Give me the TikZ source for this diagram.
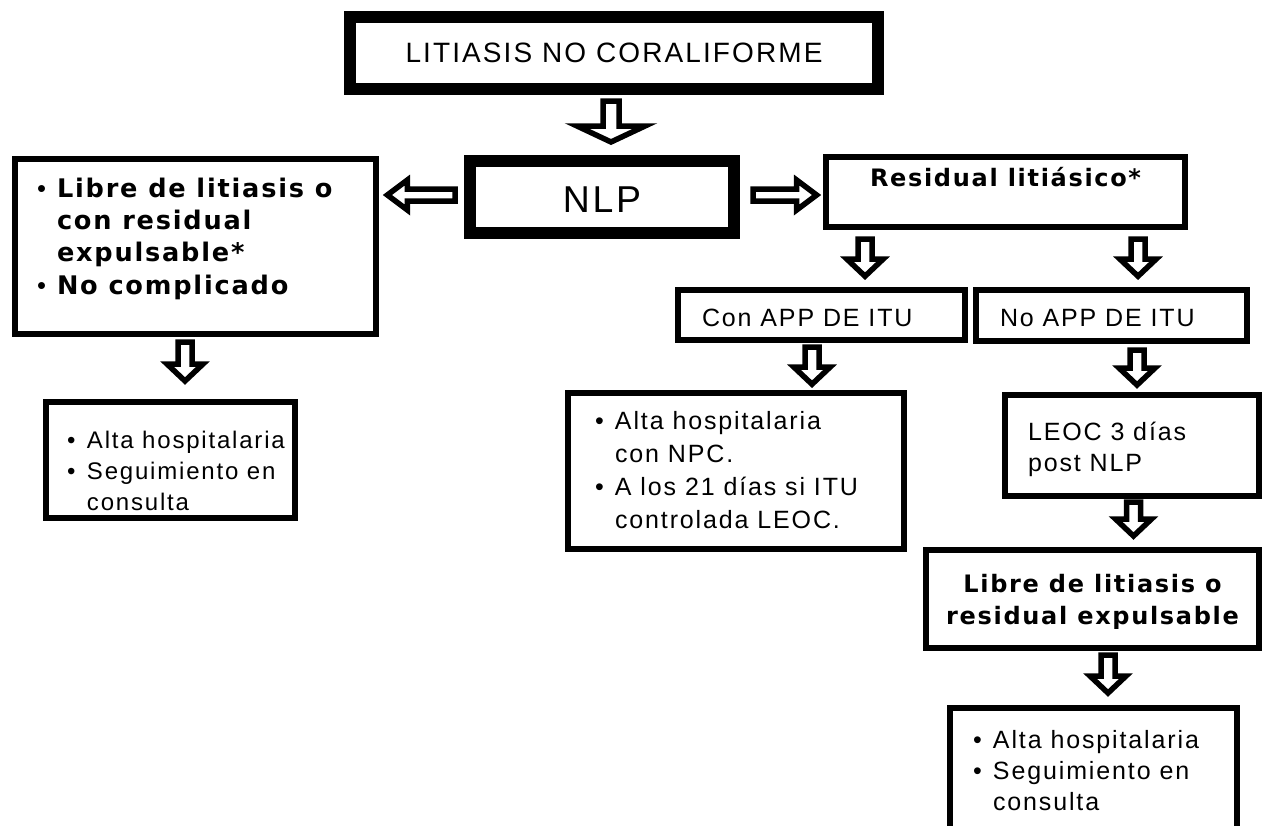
\documentclass[tikz,border=0pt]{standalone}
\usepackage{fontspec}
\setmainfont{Liberation Sans}[LetterSpace=7.5]
\newfontfamily\bfam{DejaVu Sans}[LetterSpace=7]
\usetikzlibrary{calc}

\newcommand{\itm}{\makebox[10pt][l]{\normalfont\textbullet}}
\newcommand{\ind}{\hspace*{10pt}}
\newcommand{\regsize}[1]{\fontsize{12.5pt}{#1}\selectfont}
\newcommand{\boldsize}[2]{\bfam\bfseries\fontsize{#1}{#2}\selectfont}
\newcommand{\boxtxt}[5]{\parbox[c][#1][t]{#2}{\leftskip=#3\relax\rightskip=-40pt\relax\vspace*{#4}#5}}

\begin{document}
\begin{tikzpicture}[x=0.5pt, y=-0.5pt,
	rectbox/.style={rectangle, draw, line width=3pt, inner sep=0pt},
	rectheavy/.style={rectangle, draw, line width=6pt, inner sep=0pt},
	hollow/.style n args={3}{draw, fill=white, line width=2.75pt, to path={
		let \p1=(\tikztostart), \p2=(\tikztotarget), \p3=($(\p2)!#3!(\p1)$) in
		($(\p1)!#1!90:(\p2)$) -- ($(\p3)!#1!90:(\p2)$) -- ($(\p3)!#2!90:(\p2)$) -- (\p2)
		-- ($(\p3)!#2!-90:(\p2)$) -- ($(\p3)!#1!-90:(\p2)$) -- ($(\p1)!#1!-90:(\p2)$) -- cycle}},
	bigarr/.style={hollow={4pt}{17pt}{8pt}},
	downarr/.style={hollow={3.5pt}{9pt}{8.5pt}},
	sidearr/.style={hollow={3pt}{7.5pt}{10pt}}]
		\useasboundingbox (0,0) rectangle (1262,825);
		\clip (0,0) rectangle (1262,825);
		
		\node (recttop) [rectheavy, minimum width=264pt, minimum height=36pt, font=\fontsize{14pt}{16pt}\selectfont] at (614,53) {LITIASIS NO CORALIFORME};
		
		\node (rectnlp) [rectheavy, minimum width=132pt, minimum height=36pt, font=\fontsize{18.7pt}{20pt}\selectfont] at (602,197) {\raisebox{-1.5pt}[\height][\depth]{NLP}};
		
		\node (rectleft) [rectbox, minimum width=180.5pt, minimum height=87.5pt] at (195.5,246.5) {\boxtxt{87.5pt}{180.5pt}{11pt}{9.3pt}{\boldsize{12.8pt}{16.2pt}\itm Libre de litiasis o\\ \ind con residual\\ \ind expulsable*\\ \itm No complicado}};
		
		\node (rectresid) [rectbox, minimum width=179.5pt, minimum height=35pt] at (1005.5,192) {\boxtxt{35pt}{179.5pt}{0pt}{5pt}{\centering\boldsize{12pt}{16pt}Residual litiásico*}};
		
		\node (rectcon) [rectbox, minimum width=143.5pt, minimum height=25pt] at (821.5,315) {\boxtxt{25pt}{143.5pt}{12pt}{9.3pt}{\regsize{16pt}Con APP DE ITU}};
		
		\node (rectnoapp) [rectbox, minimum width=135.5pt, minimum height=25.5pt] at (1111.5,315.5) {\boxtxt{25.5pt}{135.5pt}{12pt}{9.8pt}{\regsize{16pt}No APP DE ITU}};
		
		\node (rectnpc) [rectbox, minimum width=168pt, minimum height=78pt] at (736,471) {\boxtxt{78pt}{168pt}{13.5pt}{9.4pt}{\regsize{16.5pt}\itm Alta hospitalaria\\ \ind con NPC.\\ \itm A los 21 días si ITU\\ \ind controlada LEOC.}};
		
		\node (rectleoc) [rectbox, minimum width=127pt, minimum height=50.5pt] at (1132,445.5) {\boxtxt{50.5pt}{127pt}{11.5pt}{13.3pt}{\regsize{15.5pt}LEOC 3 días\\ post NLP}};
		
		\node (rectlibre) [rectbox, minimum width=166.5pt, minimum height=49pt] at (1092.5,599) {\boxtxt{49pt}{166.5pt}{0pt}{12.3pt}{\centering\boldsize{12pt}{16pt}Libre de litiasis o\\ residual expulsable}};
		
		\node (rectaltaright) [rectbox, minimum width=143.5pt, minimum height=76pt] at (1093.5,784) {\boxtxt{76pt}{143.5pt}{11.5pt}{11.2pt}{\regsize{15.5pt}\itm Alta hospitalaria\\ \itm Seguimiento en\\ \ind consulta}};
		
		\node (rectaltaleft) [rectbox, minimum width=124.5pt, minimum height=58pt] at (170.5,460) {\boxtxt{58pt}{124.5pt}{10.5pt}{14.5pt}{\fontsize{12pt}{15.5pt}\selectfont\itm Alta hospitalaria\\ \itm Seguimiento en\\ \ind consulta}};
		
		\draw [bigarr] ([xshift=-1.5pt,yshift=-3pt]recttop.south) to ([xshift=-1.5pt,yshift=6.5pt]recttop.south |- rectnlp.north);
		\draw [sidearr] ([xshift=-4.5pt,yshift=1pt]rectnlp.west) to ([xshift=4.2pt,yshift=1pt]rectleft.east |- rectnlp.west);
		\draw [sidearr] ([xshift=6.5pt,yshift=1pt]rectnlp.east) to ([xshift=-3.2pt,yshift=1pt]rectresid.west |- rectnlp.east);
		\draw [downarr] ([xshift=21.75pt,yshift=-4.5pt]rectcon.north |- rectresid.south) to ([xshift=21.75pt,yshift=5.4pt]rectcon.north);
		\draw [downarr] ([xshift=13.25pt,yshift=-4.5pt]rectnoapp.north |- rectresid.south) to ([xshift=13.25pt,yshift=5.4pt]rectnoapp.north);
		\draw [downarr] ([xshift=-4.75pt,yshift=-2pt]rectcon.south) to ([xshift=-4.75pt,yshift=2.9pt]rectcon.south |- rectnpc.north);
		\draw [downarr] ([xshift=12.75pt,yshift=-3pt]rectnoapp.south) to ([xshift=12.75pt,yshift=3.5pt]rectnoapp.south |- rectleoc.north);
		\draw [downarr] ([xshift=0.75pt,yshift=-1.5pt]rectleoc.south) to ([xshift=0.75pt,yshift=5.5pt]rectleoc.south |- rectlibre.north);
		\draw [downarr] ([xshift=7.75pt,yshift=-2pt]rectlibre.south) to ([xshift=7.75pt,yshift=6pt]rectlibre.south |- rectaltaright.north);
		\draw [downarr] ([xshift=-5.25pt,yshift=-2.5pt]rectleft.south) to ([xshift=-5.25pt,yshift=9pt]rectleft.south |- rectaltaleft.north);
		
\end{tikzpicture}
\end{document}
